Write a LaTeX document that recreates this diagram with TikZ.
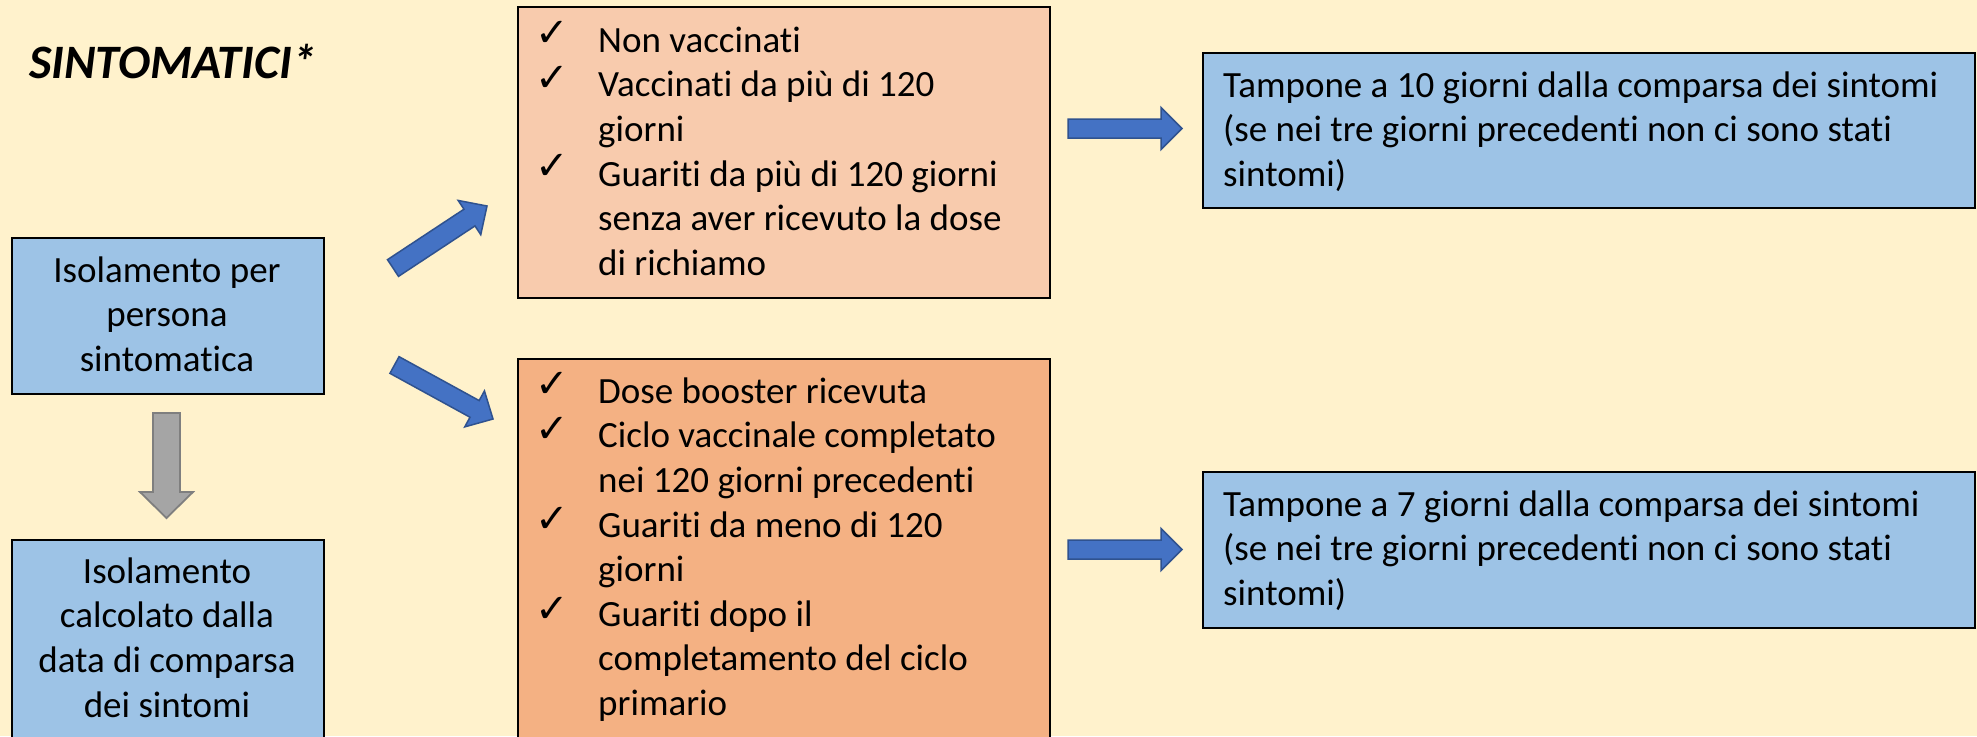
\documentclass[tikz,border=0pt]{standalone}
\usepackage{fontspec}
\setmainfont{Carlito}[Ligatures=NoCommon]
\newfontfamily\ckfont{DejaVu Sans}
\usetikzlibrary{calc}
\definecolor{bgc}{HTML}{FFF2CC}
\definecolor{boxblue}{HTML}{9DC3E6}
\definecolor{orA}{HTML}{F8CBAD}
\definecolor{orB}{HTML}{F4B183}
\definecolor{arrblue}{HTML}{4472C4}
\definecolor{arrline}{HTML}{2F528F}
\definecolor{arrgray}{HTML}{A5A5A5}
\definecolor{grayline}{HTML}{7F7F7F}
\newcommand\bodysize{\fontsize{37pt}{44.6pt}\selectfont}
\tikzset{
  box/.style={draw=black, line width=1.5pt, inner sep=0pt, anchor=north west},
  bluebox/.style={box, fill=boxblue},
  txt/.style={inner sep=0pt, anchor=north west, yshift=31.22pt, font=\bodysize},
  ck/.style={inner sep=0pt, font=\ckfont\fontsize{40pt}{40pt}\selectfont},
  titlestyle/.style={inner sep=0pt, anchor=base west, font=\fontsize{48pt}{50pt}\selectfont\bfseries\itshape},
  bluearrow/.style={fill=arrblue, draw=arrline, line width=1.5pt, line join=miter},
  grayarrow/.style={fill=arrgray, draw=grayline, line width=1.8pt, line join=miter},
}
% #1 style, #2 tail, #3 tip, #4 shaft half width, #5 head half width, #6 head length
\newcommand\bkarrow[6]{%
  \coordinate (hb) at ($(#3)!#6pt!(#2)$);
  \draw[#1] ($(#2)!#4pt!-90:(#3)$) -- ($(hb)!#4pt!-90:(#3)$) -- ($(hb)!#5pt!-90:(#3)$) -- (#3)
    -- ($(hb)!#5pt!90:(#3)$) -- ($(hb)!#4pt!90:(#3)$) -- ($(#2)!#4pt!90:(#3)$) -- cycle;
}
\begin{document}
\begin{tikzpicture}[x=1pt,y=-1pt]
\useasboundingbox (0,0) rectangle (1977,736);
\clip (0,0) rectangle (1977,736);
\fill[bgc] (0,0) rectangle (1977,736);

\node[titlestyle] (title) at (29,78) {SINTOMATICI*};

% left column
\node[bluebox, minimum width=312pt, minimum height=156pt] (iso) at (11,237) {};
\node[txt, anchor=north, align=center] (isot) at (167,282) {\strut Isolamento per\\persona\\sintomatica};
\node[bluebox, minimum width=312pt, minimum height=240pt] (calc) at (11,539) {};
\node[txt, anchor=north, align=center] (calct) at (167,583) {\strut Isolamento\\calcolato dalla\\data di comparsa\\dei sintomi};

% middle column
\node[box, fill=orA, minimum width=532pt, minimum height=291pt] (nv) at (517,6) {};
\node[txt, align=left] (nvt) at (598,52) {\strut Non vaccinati\\Vaccinati da più di 120\\giorni\\Guariti da più di 120 giorni\\senza aver ricevuto la dose\\di richiamo};
\node[ck] (c1) at (552,34) {✓};
\node[ck] (c2) at (552,79) {✓};
\node[ck] (c3) at (552,167) {✓};

\node[box, fill=orB, minimum width=532pt, minimum height=420pt] (bo) at (517,358) {};
\node[txt, align=left] (bot) at (598,403) {\strut Dose booster ricevuta\\Ciclo vaccinale completato\\nei 120 giorni precedenti\\Guariti da meno di 120\\giorni\\Guariti dopo il\\completamento del ciclo\\primario};
\node[ck] (c4) at (552,385) {✓};
\node[ck] (c5) at (552,430) {✓};
\node[ck] (c6) at (552,520) {✓};
\node[ck] (c7) at (552,610) {✓};

% right column
\node[bluebox, minimum width=772pt, minimum height=155pt] (t10) at (1202,52) {};
\node[txt, align=left] (t10t) at (1223,97) {\strut Tampone a 10 giorni dalla comparsa dei sintomi\\(se nei tre giorni precedenti non ci sono stati\\sintomi)};
\node[bluebox, minimum width=772pt, minimum height=156pt] (t7) at (1202,471) {};
\node[txt, align=left] (t7t) at (1223,516) {\strut Tampone a 7 giorni dalla comparsa dei sintomi\\(se nei tre giorni precedenti non ci sono stati\\sintomi)};

% block arrows
\coordinate (gA) at (166.5,413); \coordinate (gB) at (166.5,518);
\bkarrow{grayarrow}{gA}{gB}{13.5}{26.5}{26}
\coordinate (uA) at (393,268); \coordinate (uB) at (487,206);
\bkarrow{bluearrow}{uA}{uB}{10}{20.5}{21}
\coordinate (dA) at (394.5,365); \coordinate (dB) at (493,419);
\bkarrow{bluearrow}{dA}{dB}{9.5}{20.5}{21}
\coordinate (rA) at (1068,128.5); \coordinate (rB) at (1182,128.5);
\bkarrow{bluearrow}{rA}{rB}{9.5}{21}{21}
\coordinate (sA) at (1068,549.5); \coordinate (sB) at (1182,549.5);
\bkarrow{bluearrow}{sA}{sB}{9.5}{21}{21}
\end{tikzpicture}
\end{document}
